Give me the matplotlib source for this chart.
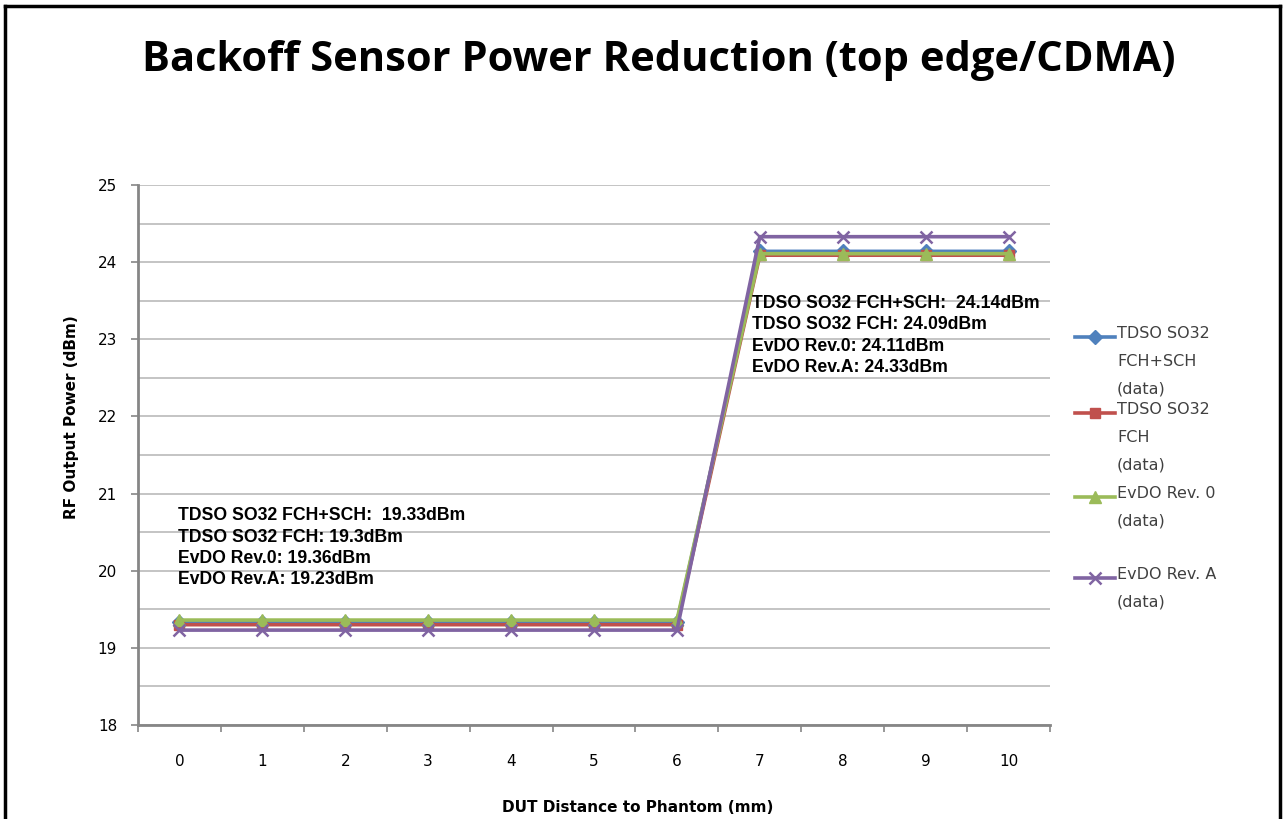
import numpy as np
import matplotlib.pyplot as plt
from matplotlib.lines import Line2D

# distance (mm) categories and measured output power per mode
distance = [0, 1, 2, 3, 4, 5, 6, 7, 8, 9, 10]
fch_sch = [19.33] * 7 + [24.14] * 4
fch = [19.3] * 7 + [24.09] * 4
evdo_rev0 = [19.36] * 7 + [24.11] * 4
evdo_revA = [19.23] * 7 + [24.33] * 4

names = ['TDSO SO32\nFCH+SCH\n(data)', 'TDSO SO32\nFCH\n(data)',
         'EvDO Rev. 0\n(data)', 'EvDO Rev. A\n(data)']
series = [fch_sch, fch, evdo_rev0, evdo_revA]
colors = ['#4F81BD', '#C0504D', '#9BBB59', '#8064A2']
markers = ['D', 's', '^', 'x']
msizes = [7, 7, 8, 9]

low_note = ('TDSO SO32 FCH+SCH:  19.33dBm\nTDSO SO32 FCH: 19.3dBm\n'
            'EvDO Rev.0: 19.36dBm\nEvDO Rev.A: 19.23dBm')
high_note = ('TDSO SO32 FCH+SCH:  24.14dBm\nTDSO SO32 FCH: 24.09dBm\n'
             'EvDO Rev.0: 24.11dBm\nEvDO Rev.A: 24.33dBm')

fig = plt.figure(figsize=(12.86, 8.19), dpi=100)
ax = fig.add_axes([0.1073, 0.1148, 0.7092, 0.6593])

x = np.arange(len(distance))
lines = []
for y, c, m, ms in zip(series, colors, markers, msizes):
    ln, = ax.plot(x, y, color=c, lw=2.6, marker=m, markersize=ms,
                  markeredgewidth=1.8 if m == 'x' else 1, zorder=3)
    lines.append(ln)

ax.set_xlim(-0.5, len(distance) - 0.5)
ax.set_ylim(18, 25)
ax.set_yticks(np.arange(18, 25.01, 1))
ax.set_yticks(np.arange(18.5, 25, 1), minor=True)
ax.set_yticklabels([str(v) for v in range(18, 26)])
ax.grid(axis='y', which='both', color='#BFBFBF', lw=1.3)
ax.tick_params(axis='y', which='minor', length=0)
ax.tick_params(axis='y', which='major', length=5, width=1.2, color='#868686',
               labelsize=11, pad=10)

ax.set_xticks(np.arange(-0.5, len(distance), 1))
ax.set_xticklabels([])
ax.set_xticks(x, minor=True)
ax.set_xticklabels([str(d) for d in distance], minor=True)
ax.tick_params(axis='x', which='major', length=5, width=1.2, color='#868686')
ax.tick_params(axis='x', which='minor', length=0, labelsize=11, pad=21)

for s in ['top', 'right']:
    ax.spines[s].set_visible(False)
for s in ['left', 'bottom']:
    ax.spines[s].set_color('#868686')
    ax.spines[s].set_linewidth(2)
ax.set_axisbelow(True)

ax.set_ylabel('RF Output Power (dBm)', fontsize=11, fontweight='bold')
ax.yaxis.set_label_coords(-0.0647, 0.570)
ax.set_xlabel('DUT Distance to Phantom (mm)', fontsize=11, fontweight='bold')
ax.xaxis.set_label_coords(0.548, -0.139)

ax.text(-0.02, 20.82, low_note, fontsize=12.7, fontweight='bold', family='Liberation Sans',
        va='top', ha='left', linespacing=1.32, zorder=4)
ax.text(6.9, 23.57, high_note, fontsize=12.7, fontweight='bold', family='Liberation Sans',
        va='top', ha='left', linespacing=1.32, zorder=4)

fig.text(0.512, 0.926, 'Backoff Sensor Power Reduction (top edge/CDMA)',
         ha='center', va='center', fontsize=30, fontweight='bold', family='Open Sans')

# legend drawn at the right, handle aligned with first label line
leg_y = [337, 413, 497, 578]
for ln, lab, ly in zip(lines, names, leg_y):
    yf = 1 - ly / 819
    fig.add_artist(Line2D([1075 / 1286, 1115 / 1286], [yf, yf], color=ln.get_color(),
                          lw=2.6, transform=fig.transFigure))
    fig.add_artist(Line2D([1095 / 1286], [yf], color=ln.get_color(), lw=0,
                          marker=ln.get_marker(), markersize=ln.get_markersize(),
                          markeredgewidth=ln.get_markeredgewidth(),
                          transform=fig.transFigure))
    fig.text(1117 / 1286, yf + 0.013, lab, ha='left', va='top', fontsize=11.5,
             color='#404040', linespacing=2.05)

# outer frame (bottom cut off)
fr = dict(color='black', lw=2.5, transform=fig.transFigure)
fig.add_artist(Line2D([5 / 1286, 5 / 1286], [0, 1 - 6 / 819], **fr))
fig.add_artist(Line2D([5 / 1286, 1280 / 1286], [1 - 6 / 819, 1 - 6 / 819], **fr))
fig.add_artist(Line2D([1280 / 1286, 1280 / 1286], [0, 1 - 6 / 819], **fr))

fig.savefig('out.png', dpi=100)
